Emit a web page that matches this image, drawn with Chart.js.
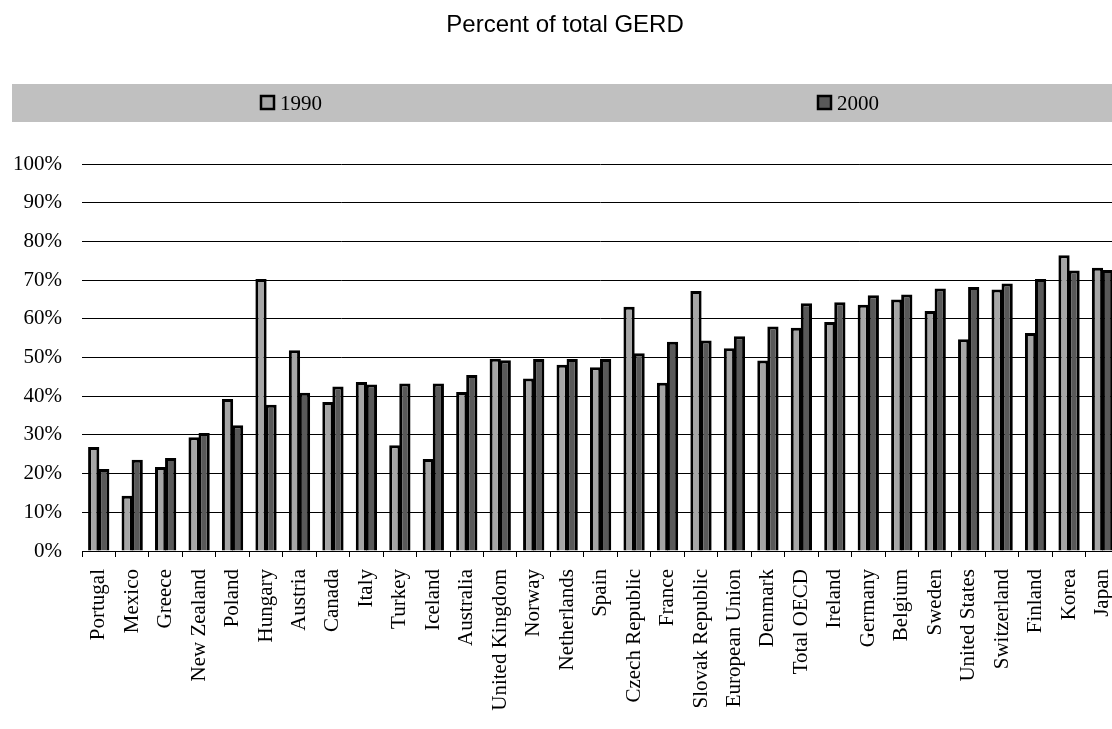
<!DOCTYPE html>
<html>
<head>
<meta charset="utf-8">
<title>Percent of total GERD</title>
<script src="https://cdn.jsdelivr.net/npm/chart.js@4"></script>
<style>
  html, body { margin: 0; padding: 0; background: #fff; overflow: hidden; }
  #wrap { width: 1140px; height: 729px; }
</style>
</head>
<body>
<div id="wrap"><canvas id="gerd" width="1140" height="729"></canvas></div>
<script>
// categories and series (percent of total GERD)
const countries = [
  'Portugal', 'Mexico', 'Greece', 'New Zealand', 'Poland', 'Hungary', 'Austria',
  'Canada', 'Italy', 'Turkey', 'Iceland', 'Australia', 'United Kingdom', 'Norway',
  'Netherlands', 'Spain', 'Czech Republic', 'France', 'Slovak Republic',
  'European Union', 'Denmark', 'Total OECD', 'Ireland', 'Germany', 'Belgium',
  'Sweden', 'United States', 'Switzerland', 'Finland', 'Korea', 'Japan'
];
const values1990 = [
  26.9, 14.3, 21.7, 29.4, 39.3, 70.3, 51.9, 38.5, 43.7, 27.3, 23.8, 41.1, 49.7, 44.6,
  48.1, 47.5, 63.1, 43.5, 67.2, 52.4, 49.2, 57.7, 59.2, 63.6, 65.0, 62.0, 54.7, 67.6,
  56.3, 76.4, 73.2
];
const values2000 = [
  21.2, 23.6, 24.0, 30.5, 32.5, 37.8, 40.9, 42.5, 43.0, 43.3, 43.3, 45.5, 49.3, 49.6,
  49.6, 49.6, 51.1, 54.1, 54.4, 55.5, 58.0, 64.0, 64.3, 66.1, 66.3, 67.8, 68.2, 69.1,
  70.3, 72.5, 72.6
];
const seriesNames = ['1990', '2000'];
const seriesColors = ['#a6a6a6', '#595959'];
const yTicks = [0, 10, 20, 30, 40, 50, 60, 70, 80, 90, 100];

const serif = "'Liberation Serif', 'Times New Roman', serif";

// title + legend band, drawn like the spreadsheet original
const headerPlugin = {
  id: 'header',
  afterDraw(chart) {
    const ctx = chart.ctx;
    ctx.save();
    ctx.fillStyle = '#000';
    ctx.font = "24px 'Liberation Sans', Arial, sans-serif";
    ctx.textAlign = 'center';
    ctx.textBaseline = 'alphabetic';
    ctx.fillText('Percent of total GERD', 565, 32);

    ctx.fillStyle = '#c0c0c0';
    ctx.fillRect(12, 84, chart.width - 12, 38);

    const boxX = [261, 818];
    ctx.font = '21px ' + serif;
    ctx.textAlign = 'left';
    seriesNames.forEach((name, i) => {
      ctx.fillStyle = seriesColors[i];
      ctx.fillRect(boxX[i], 96, 13, 13);
      ctx.strokeStyle = '#000';
      ctx.lineWidth = 2.5;
      ctx.strokeRect(boxX[i], 96, 13, 13);
      ctx.fillStyle = '#000';
      ctx.fillText(name, boxX[i] + 19, 110);
    });
    ctx.restore();
  }
};

new Chart(document.getElementById('gerd'), {
  type: 'bar',
  data: {
    labels: countries,
    datasets: [values1990, values2000].map((vals, i) => ({
      label: seriesNames[i],
      data: vals,
      backgroundColor: seriesColors[i],
      borderColor: '#000',
      borderWidth: 3,
      categoryPercentage: 0.6,
      barPercentage: 1.12
    }))
  },
  options: {
    responsive: false,
    animation: false,
    events: [],
    layout: { padding: { top: 164, right: 17.6, left: 0, bottom: 0 } },
    plugins: {
      legend: { display: false },
      title: { display: false },
      tooltip: { enabled: false }
    },
    scales: {
      x: {
        grid: {
          display: true,
          drawOnChartArea: false,
          drawTicks: true,
          tickLength: 6,
          color: '#000',
          lineWidth: 1
        },
        border: { display: true, color: '#000', width: 1 },
        ticks: {
          color: '#000',
          font: { family: serif, size: 21 },
          maxRotation: 90,
          minRotation: 90,
          autoSkip: false,
          padding: 12
        },
        afterFit(scale) { scale.height = 178; }
      },
      y: {
        min: yTicks[0],
        max: yTicks[yTicks.length - 1],
        afterBuildTicks(scale) { scale.ticks = yTicks.map(v => ({ value: v })); },
        grid: { color: '#000', lineWidth: 1, drawTicks: false },
        border: { display: false },
        ticks: {
          color: '#000',
          font: { family: serif, size: 21 },
          padding: 20,
          callback: v => v + '%'
        },
        afterFit(scale) { scale.width = 82; }
      }
    }
  },
  plugins: [headerPlugin]
});
</script>
</body>
</html>
